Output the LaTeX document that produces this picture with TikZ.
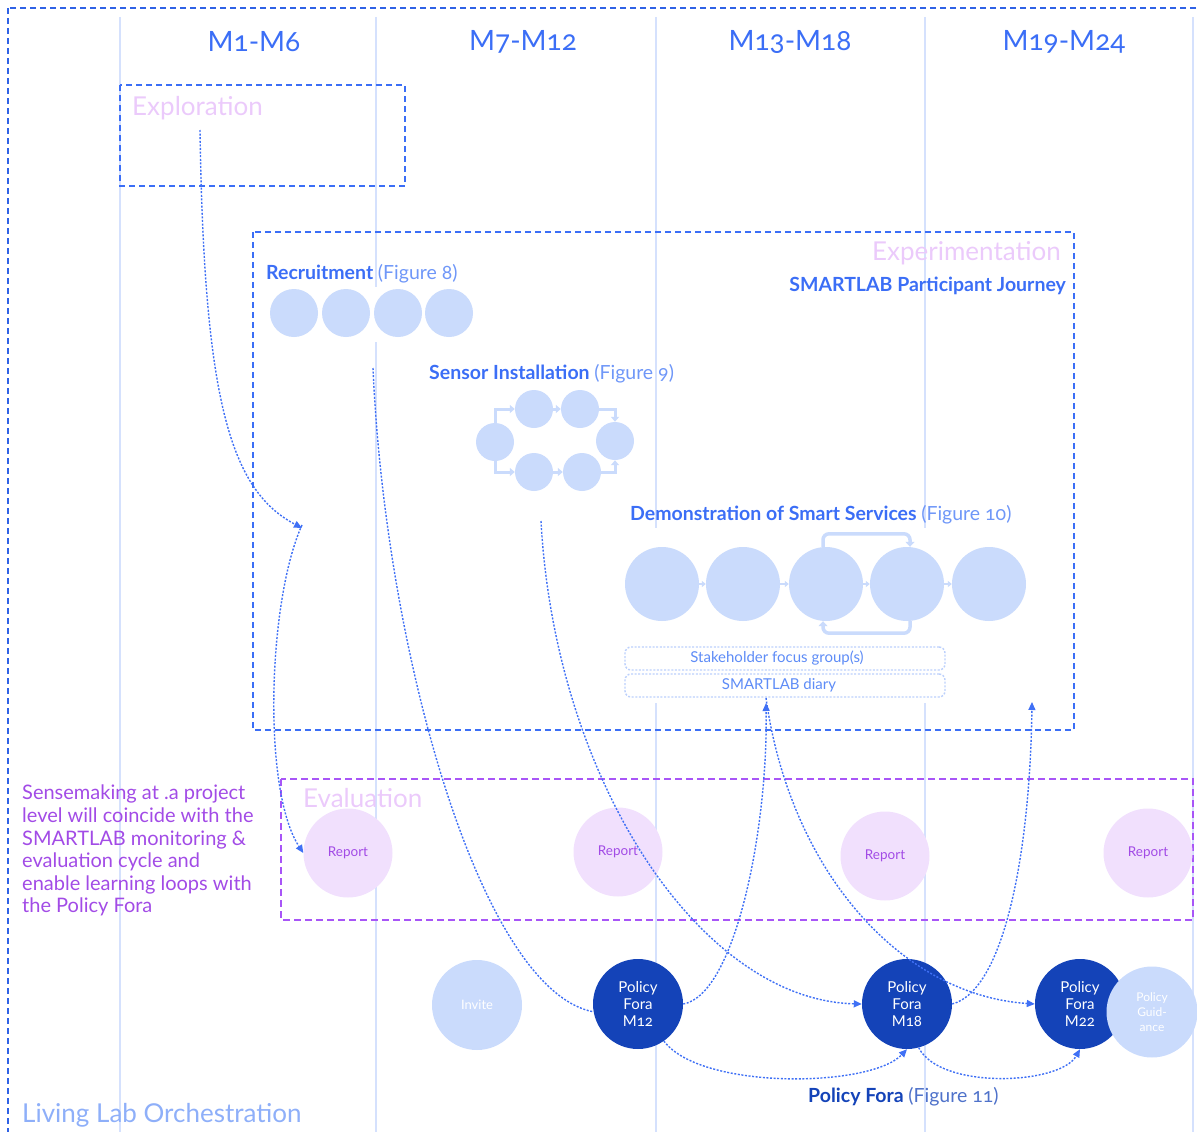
\documentclass[tikz,border=0pt]{standalone}
\usepackage{fontspec}
\setmainfont{Lato}[Numbers=OldStyle]
\usetikzlibrary{arrows.meta,shapes.geometric}

\definecolor{hdrblue}{HTML}{3B6EF6}
\definecolor{frameblue}{HTML}{2F62E6}
\definecolor{paleblue}{HTML}{CADBFC}
\definecolor{gridblue}{HTML}{D5E1FD}
\definecolor{figblue}{HTML}{6F97F8}
\definecolor{navy}{HTML}{1443B8}
\definecolor{evalpurple}{HTML}{A855F7}
\definecolor{lilac}{HTML}{EBCAFB}
\definecolor{reportfill}{HTML}{F1E0FD}
\definecolor{textpurple}{HTML}{A24BE6}
\definecolor{orchblue}{HTML}{8EAFF9}
\definecolor{linkblue}{HTML}{3F70F5}
\definecolor{boxblue}{HTML}{BCD0FC}
\definecolor{boxtext}{HTML}{5E8CF7}

\tikzset{
  fs/.style={font=\fontsize{#1}{#1}\selectfont},
  outerframe/.style={draw=frameblue, line width=1.3pt, dash pattern=on 6pt off 4pt},
  phasebox/.style={draw=hdrblue, line width=1.3pt, dash pattern=on 6pt off 4pt},
  evalbox/.style={draw=evalpurple, line width=1.6pt, dash pattern=on 7pt off 4pt},
  gridline/.style={draw=gridblue, line width=1.2pt},
  hdr/.style={text=hdrblue, fs=28},
  phaselabel/.style={text=lilac, fs=26, inner sep=0},
  title/.style={text=hdrblue, fs=19.5, inner sep=0},
  stepdot/.style={circle, fill=paleblue, inner sep=0, minimum size=#1},
  ring/.style={draw=paleblue, line width=3pt, -{Triangle[length=5pt,width=8pt]}},
  tinyarrow/.style={draw=paleblue, line width=2pt, -{Triangle[length=4pt,width=6pt]}},
  loopline/.style={draw=paleblue, line width=3.5pt, rounded corners=6pt, -{Triangle[length=5pt,width=9pt]}},
  notebox/.style={draw=boxblue, line width=1.4pt, dash pattern=on 2pt off 1.6pt, rounded corners=6pt,
                  fill=white, minimum width=320pt, minimum height=23pt, inner sep=0, text=boxtext, fs=15},
  report/.style={circle, fill=reportfill, inner sep=0, minimum size=89pt, text=textpurple, fs=13.5},
  forum/.style={circle, fill=navy, inner sep=0, minimum size=90pt, text=white, align=center,
                font=\fontsize{15}{17}\selectfont},
  palecirc/.style={circle, fill=paleblue, inner sep=0, minimum size=90pt, text=white, align=center,
                   font=\fontsize{13}{15}\selectfont},
  link/.style={draw=linkblue, line width=1.4pt, dash pattern=on 2pt off 1.6pt},
  linktip/.style={link, -{Triangle[length=8pt,width=7pt]}},
}

\begin{document}
\begin{tikzpicture}[x=1pt,y=-1pt]
\useasboundingbox (0,0) rectangle (1197,1132);

% month columns
\foreach \gx in {120,376,656,925,1193}
  \draw[gridline] (\gx,17) -- (\gx,1132);

% outer orchestration frame
\draw[outerframe] (8,8) rectangle (1210,1145);

% column headings
\node[hdr] (h1) at (254,42) {M1-M6};
\node[hdr] (h2) at (523,42) {M7-M12};
\node[hdr] (h3) at (790,42) {M13-M18};
\node[hdr] (h4) at (1064,42) {M19-M24};

% exploration phase
\draw[phasebox] (120,85) rectangle (405,186);
\node[phaselabel, anchor=west] (explabel) at (132,108) {Exploration};

% experimentation phase
\draw[phasebox] (253,232) rectangle (1074,730);
\node[phaselabel, anchor=east] (exptlabel) at (1061,253) {Experimentation};
\node[title, anchor=east] (journey) at (1066,286) {\bfseries SMARTLAB Participant Journey};

% recruitment
\fill[white] (265,287) rectangle (476,342);
\node[title, anchor=west] (rectitle) at (266,274) {\bfseries Recruitment \mdseries\color{figblue}(Figure 8)};
\node[stepdot=48pt] (r1) at (294,313) {};
\node[stepdot=48pt] (r2) at (346,313) {};
\node[stepdot=48pt] (r3) at (398,313) {};
\node[stepdot=48pt] (r4) at (449,313) {};

% sensor installation
\node[title, anchor=west] (sentitle) at (429,374) {\bfseries Sensor Installation \mdseries\color{figblue}(Figure 9)};
\node[stepdot=38pt] (s1) at (495,442) {};
\node[stepdot=38pt] (s2) at (534,409) {};
\node[stepdot=38pt] (s3) at (580,409) {};
\node[stepdot=38pt] (s4) at (615,441) {};
\node[stepdot=38pt] (s5) at (534,472) {};
\node[stepdot=38pt] (s6) at (582,472) {};
\draw[ring] (s1.north) |- (s2.west);
\draw[ring] (s2.east) -- (s3.west);
\draw[ring] (s3.east) -| (s4.north);
\draw[ring] (s1.south) |- (s5.west);
\draw[ring] (s5.east) -- (s6.west);
\draw[ring] (s6.east) -| (s4.south);

% demonstration of smart services
\fill[white] (620,528) rectangle (1050,703);
\node[title, anchor=west] (demotitle) at (630,515) {\bfseries Demonstration of Smart Services \mdseries\color{figblue}(Figure 10)};
\node[stepdot=74pt] (d1) at (662,584) {};
\node[stepdot=74pt] (d2) at (743,584) {};
\node[stepdot=74pt] (d3) at (826,584) {};
\node[stepdot=74pt] (d4) at (907,584) {};
\node[stepdot=74pt] (d5) at (989,584) {};
\draw[tinyarrow] (d1.east) -- (d2.west);
\draw[tinyarrow] (d2.east) -- (d3.west);
\draw[tinyarrow] (d3.east) -- (d4.west);
\draw[tinyarrow] (d4.east) -- (d5.west);
\draw[loopline] ([xshift=-3pt]d3.north) -- ++(0,-13) -| ([xshift=3pt]d4.north);
\draw[loopline] ([xshift=3pt]d4.south) -- ++(0,12) -| ([xshift=-3pt]d3.south);
\node[notebox] (focus) at (785,658.5) {\hspace*{-16pt}Stakeholder focus group(s)};
\node[notebox] (diary) at (785,685.5) {\hspace*{-12pt}SMARTLAB diary};

% evaluation
\draw[evalbox] (281,779) rectangle (1193,920);
\node[phaselabel, anchor=west] (evallabel) at (303,798) {Evaluation};
\node[report] (rep1) at (348,853) {Report};
\node[report] (rep2) at (618,852) {Report};
\node[report] (rep3) at (885,856) {Report};
\node[report] (rep4) at (1148,853) {Report};

\node[anchor=north west, inner sep=0, text=textpurple, align=left,
      font=\fontsize{20}{22.6}\selectfont] (sense) at (22,785)
  {Sensemaking at .a project\\level will coincide with the\\SMARTLAB monitoring \&\\evaluation cycle and\\enable learning loops with\\the Policy Fora};

% policy fora
\node[palecirc] (invite) at (477,1005) {Invite};
\node[forum] (pf12) at (638,1004) {Policy\\Fora\\M12};
\node[forum] (pf18) at (907,1004) {Policy\\Fora\\M18};
\node[forum] (pf22) at (1080,1004) {Policy\\Fora\\M22};
\node[palecirc, minimum size=91pt, font=\fontsize{12}{15}\selectfont] (guide) at (1152,1012) {Policy\\Guid-\\ance};
\node[anchor=west, inner sep=0, fs=19.5, text=navy] (foratitle) at (808,1097)
  {\bfseries Policy Fora \mdseries\color{navy!75}(Figure 11)};

\node[anchor=west, inner sep=0, fs=26, text=orchblue] (orch) at (22,1115) {Living Lab Orchestration};

% learning-loop connectors
\coordinate (explsrc) at (200,130);
\coordinate (hub) at (302,528);
\coordinate (recsrc) at (373,368);
\coordinate (sensrc) at (541,521);
\coordinate (diaryin) at (766,703);
\coordinate (exptin) at (1032,702);

\draw[linktip] (explsrc) .. controls (204,400) and (230,490) .. (hub);
\draw[linktip] ([yshift=3pt]hub) .. controls (268,600) and (262,790) .. (rep1.west);
\draw[link] (recsrc) .. controls (385,650) and (480,990) .. (pf12.190);
\draw[linktip] (pf12.east) .. controls (735,995) and (768,830) .. (diaryin);
\draw[linktip] ([yshift=5pt]diaryin) .. controls (790,870) and (900,995) .. (pf22.west);
\draw[linktip] (sensrc) .. controls (555,780) and (700,1000) .. (pf18.west);
\draw[linktip] (pf18.east) .. controls (1005,990) and (1030,850) .. (exptin);
\draw[linktip] (pf12.305) .. controls (700,1090) and (870,1088) .. (pf18.south);
\draw[linktip] (pf18.285) .. controls (940,1090) and (1060,1085) .. (pf22.south);
\end{tikzpicture}
\end{document}
